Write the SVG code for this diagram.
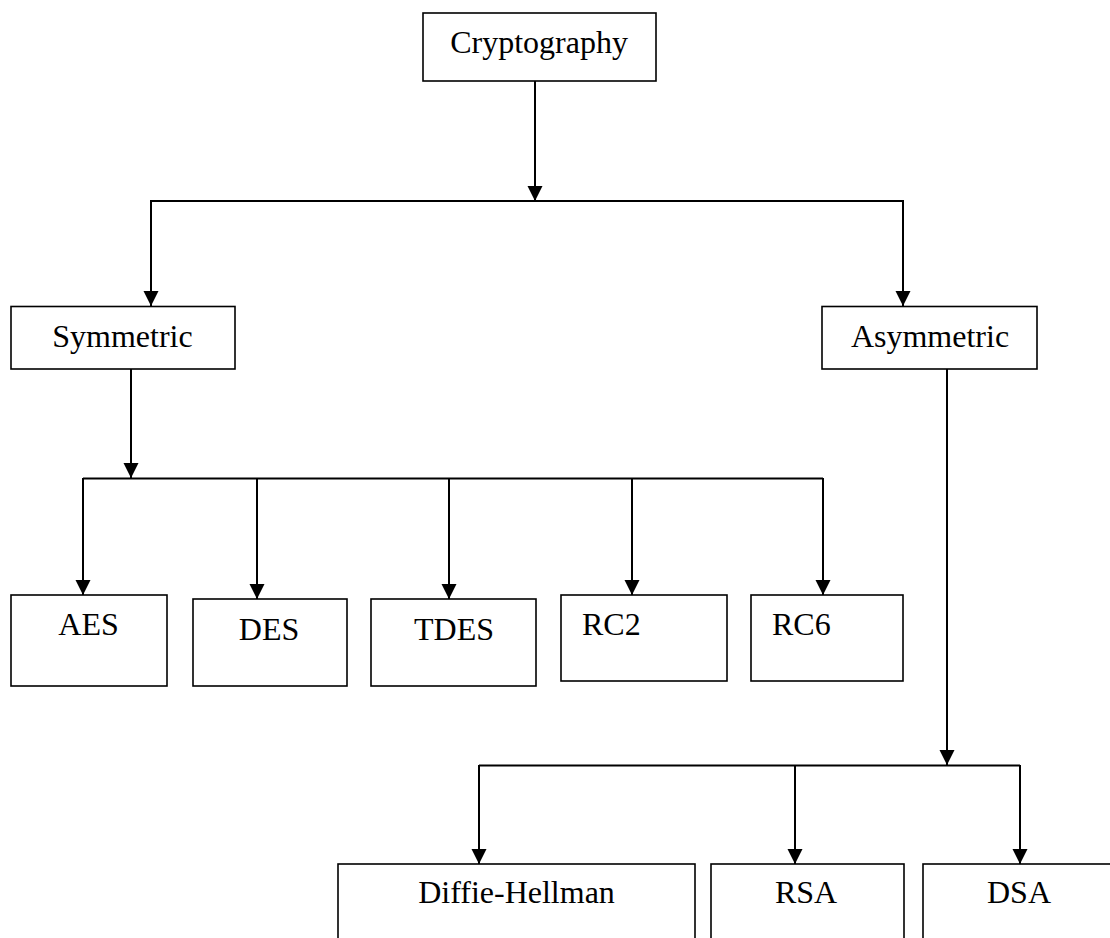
<svg xmlns="http://www.w3.org/2000/svg" width="1110" height="938" viewBox="0 0 1110 938">
<style>
.box{fill:#fff;stroke:#000;stroke-width:1.6}
.lbl{font-family:"Liberation Serif","Times New Roman",serif;font-size:32px;fill:#000}
.c{text-anchor:middle}
.ln{stroke:#000;stroke-width:2;fill:none}
.ar{stroke:#000;stroke-width:2;fill:none;marker-end:url(#ah)}
</style>
<defs>
<marker id="ah" markerUnits="userSpaceOnUse" markerWidth="16" markerHeight="16" refX="15" refY="7.5" orient="auto">
<path d="M0,0 L15,7.5 L0,15 z" fill="#000"/>
</marker>
</defs>
<rect width="1110" height="938" fill="#fff"/>
<g id="connectors">
<line class="ar" x1="535" y1="81" x2="535" y2="201"/>
<polyline class="ln" points="151,307 151,201 903,201 903,307"/>
<line class="ar" x1="151" y1="201" x2="151" y2="306"/>
<line class="ar" x1="903" y1="201" x2="903" y2="306"/>
<line class="ar" x1="131" y1="369" x2="131" y2="478"/>
<line class="ln" x1="83" y1="478.5" x2="823" y2="478.5"/>
<line class="ar" x1="83" y1="478" x2="83" y2="595"/>
<line class="ar" x1="257" y1="478" x2="257" y2="599"/>
<line class="ar" x1="449" y1="478" x2="449" y2="599"/>
<line class="ar" x1="632" y1="478" x2="632" y2="595"/>
<line class="ar" x1="823" y1="478" x2="823" y2="595"/>
<line class="ar" x1="947" y1="369" x2="947" y2="765"/>
<line class="ln" x1="479" y1="765.5" x2="1020" y2="765.5"/>
<line class="ar" x1="479" y1="765" x2="479" y2="864"/>
<line class="ar" x1="795" y1="765" x2="795" y2="864"/>
<line class="ar" x1="1020" y1="765" x2="1020" y2="864"/>
</g>
<g id="cryptography"><rect class="box" x="423" y="13" width="233" height="68"/><text class="lbl c" x="539" y="53">Cryptography</text></g>
<g id="symmetric"><rect class="box" x="11" y="306.5" width="224" height="62.5"/><text class="lbl c" x="122.5" y="347">Symmetric</text></g>
<g id="asymmetric"><rect class="box" x="822" y="306.5" width="215" height="62.5"/><text class="lbl c" x="930" y="347">Asymmetric</text></g>
<g id="aes"><rect class="box" x="11" y="595" width="156" height="91"/><text class="lbl c" x="88.5" y="635">AES</text></g>
<g id="des"><rect class="box" x="193" y="599" width="154" height="87"/><text class="lbl c" x="269" y="640">DES</text></g>
<g id="tdes"><rect class="box" x="371" y="599" width="165" height="87"/><text class="lbl c" x="454" y="640">TDES</text></g>
<g id="rc2"><rect class="box" x="561" y="595" width="166" height="86"/><text class="lbl" x="582" y="635">RC2</text></g>
<g id="rc6"><rect class="box" x="751" y="595" width="152" height="86"/><text class="lbl" x="772" y="635">RC6</text></g>
<g id="diffie-hellman"><rect class="box" x="338" y="864" width="357" height="100"/><text class="lbl c" x="516.5" y="903">Diffie-Hellman</text></g>
<g id="rsa"><rect class="box" x="711" y="864" width="193" height="100"/><text class="lbl c" x="806" y="903">RSA</text></g>
<g id="dsa"><rect class="box" x="923" y="864" width="200" height="100"/><text class="lbl c" x="1019" y="903">DSA</text></g>
</svg>
